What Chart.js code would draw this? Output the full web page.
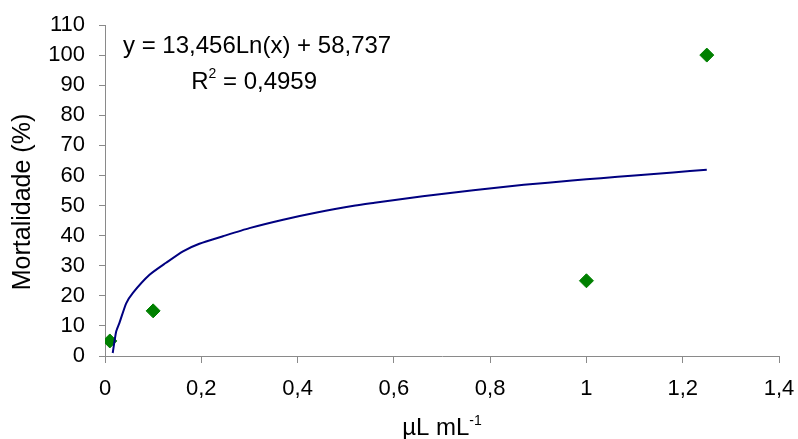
<!DOCTYPE html>
<html>
<head>
<meta charset="utf-8">
<script src="https://cdn.jsdelivr.net/npm/chart.js@4.4.1/dist/chart.umd.min.js"></script>
<style>
  html, body { margin: 0; padding: 0; background: #fff; }
  #wrap { width: 798px; height: 439px; }
</style>
</head>
<body>
<div id="wrap"><canvas id="chart" width="798" height="439"></canvas></div>
<script>
// pontos observados (mortalidade x dose)
const doseX = [0.01, 0.1, 1, 1.25];
const mortalidadeY = [5, 15, 25, 100];

// linha de tendência
const tendX = [0.016, 0.023, 0.03, 0.044, 0.058, 0.0925, 0.127, 0.162, 0.196, 0.245, 0.3, 0.37, 0.44, 0.52, 0.56, 0.66, 0.765, 0.87, 0.97, 1.03, 1.1, 1.18, 1.25];
const tendY = [1, 8, 11, 17.5, 21, 27, 31, 34.8, 37.3, 39.8, 42.5, 45.3, 47.7, 50, 50.9, 53.1, 55.1, 56.9, 58.3, 59.1, 60, 61, 61.9];

const equacao = 'y = 13,456Ln(x) + 58,737';
const r2Texto = ' = 0,4959';
const tituloY = 'Mortalidade (%)';
const tituloX = 'µL mL';

const FONT = '"Liberation Sans", Arial, sans-serif';
const AXIS_GRAY = '#8a8a8a';

// textos extras: equação, R², títulos dos eixos
const textosPlugin = {
  id: 'textos',
  afterDraw(chart) {
    const ctx = chart.ctx;
    const area = chart.chartArea;
    ctx.save();
    ctx.fillStyle = '#000';
    ctx.textBaseline = 'alphabetic';

    // equação
    ctx.font = '24px ' + FONT;
    ctx.textAlign = 'left';
    const wEq = ctx.measureText(equacao).width;
    const eqLeft = area.left + 18;
    ctx.fillText(equacao, eqLeft, 53);

    // R², centrado sob a equação
    const wR = ctx.measureText('R').width;
    const wRest = ctx.measureText(r2Texto).width;
    ctx.font = '14px ' + FONT;
    const wSup = ctx.measureText('2').width;
    const total = wR + wSup + wRest;
    let x = eqLeft + wEq / 2 - total / 2 - 3;
    ctx.font = '24px ' + FONT;
    ctx.fillText('R', x, 89);
    x += wR;
    ctx.font = '14px ' + FONT;
    ctx.fillText('2', x, 78);
    x += wSup;
    ctx.font = '24px ' + FONT;
    ctx.fillText(r2Texto, x, 89);

    // título eixo X com expoente
    ctx.font = '24px ' + FONT;
    const wX = ctx.measureText(tituloX).width;
    ctx.font = '14px ' + FONT;
    const wE = ctx.measureText('-1').width;
    const cx = (area.left + area.right) / 2;
    const tx = cx - (wX + wE) / 2;
    ctx.font = '24px ' + FONT;
    ctx.fillText(tituloX, tx, 435);
    ctx.font = '14px ' + FONT;
    ctx.fillText('-1', tx + wX, 425);

    // título eixo Y
    ctx.translate(23, 202);
    ctx.rotate(-Math.PI / 2);
    ctx.font = '25px ' + FONT;
    ctx.textAlign = 'center';
    ctx.textBaseline = 'middle';
    ctx.fillText(tituloY, 0, 0);
    ctx.restore();
  }
};

new Chart(document.getElementById('chart'), {
  type: 'scatter',
  data: {
    datasets: [
      {
        label: 'tendência',
        data: tendX.map((x, i) => ({ x: x, y: tendY[i] })),
        showLine: true,
        borderColor: '#000080',
        borderWidth: 2,
        pointRadius: 0,
        tension: 0.2,
        fill: false
      },
      {
        label: 'mortalidade',
        data: doseX.map((x, i) => ({ x: x, y: mortalidadeY[i] })),
        pointStyle: 'rectRot',
        pointRadius: 7,
        backgroundColor: '#008000',
        borderColor: '#008000',
        borderWidth: 1
      }
    ]
  },
  options: {
    responsive: false,
    animation: false,
    layout: { padding: { left: 0, right: 19, top: 25, bottom: 0 } },
    plugins: {
      legend: { display: false },
      tooltip: { enabled: false }
    },
    scales: {
      x: {
        type: 'linear',
        min: 0,
        max: 1.4,
        afterFit(scale) {
          scale.height = 83;
          scale.paddingLeft = 0;
          scale.paddingRight = 0;
        },
        ticks: {
          stepSize: 0.2,
          color: '#000',
          padding: 13,
          font: { family: FONT, size: 22 },
          callback: v => String(Number(v.toFixed(1))).replace('.', ',')
        },
        grid: { drawOnChartArea: false, drawTicks: true, tickLength: 7, color: AXIS_GRAY },
        border: { color: AXIS_GRAY, width: 1 }
      },
      y: {
        min: 0,
        max: 110,
        afterFit(scale) {
          scale.width = 105;
          scale.paddingTop = 0;
          scale.paddingBottom = 0;
        },
        ticks: {
          stepSize: 10,
          color: '#000',
          padding: 14,
          font: { family: FONT, size: 22 }
        },
        grid: { drawOnChartArea: false, drawTicks: true, tickLength: 6, color: AXIS_GRAY },
        border: { color: AXIS_GRAY, width: 1 }
      }
    }
  },
  plugins: [textosPlugin]
});
</script>
</body>
</html>
